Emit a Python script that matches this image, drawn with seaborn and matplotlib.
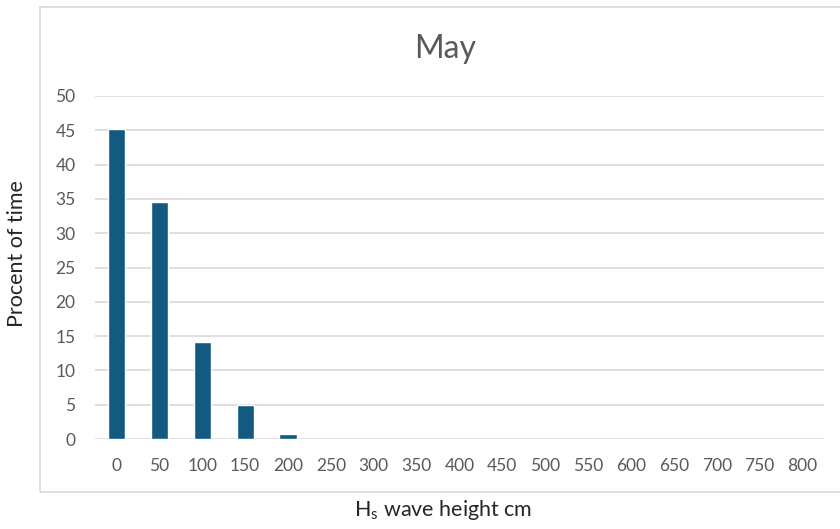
import matplotlib
matplotlib.use("Agg")
import matplotlib.pyplot as plt
import seaborn as sns
import pandas as pd
from matplotlib.patches import Rectangle

categories = ["0", "50", "100", "150", "200", "250", "300", "350", "400",
              "450", "500", "550", "600", "650", "700", "750", "800"]
percent = [45.2, 34.6, 14.2, 5.0, 0.75, 0, 0, 0, 0, 0, 0, 0, 0, 0, 0, 0, 0]
y_ticks = [0, 5, 10, 15, 20, 25, 30, 35, 40, 45, 50]

sns.set_theme(style="white")
plt.rcParams['font.family'] = ['Lato', 'DejaVu Sans']
plt.rcParams['mathtext.fontset'] = 'custom'
plt.rcParams['mathtext.rm'] = 'Lato'
plt.rcParams['mathtext.it'] = 'Lato'

df = pd.DataFrame({"cat": categories, "val": percent})

fig = plt.figure(figsize=(8.4, 5.29), dpi=100)
ax = fig.add_axes([95/840, 90/529, (824-95)/840, (439-96)/529])

sns.barplot(data=df, x="cat", y="val", order=categories, color="#125A80",
            width=0.4, ax=ax, saturation=1, zorder=3)

ax.set_ylim(0, 50)
ax.set_yticks(y_ticks)
ax.set_xlim(-0.5, len(categories) - 0.5)
ax.yaxis.grid(True, color="#d9d9d9", linewidth=1.2, zorder=0)
ax.xaxis.grid(False)
for s in ax.spines.values():
    s.set_visible(False)
ax.tick_params(axis="both", length=0, labelsize=12.5, colors="#595959")
ax.tick_params(axis="y", pad=14)
ax.tick_params(axis="x", pad=14)
ax.set_xlabel("")
ax.set_ylabel("")

fig.text(445/840, 1 - 49/529, "May", ha="center", va="center",
         fontsize=23, color="#595959")
fig.text(17/840, 1 - 254/529, "Procent of time", rotation=90, ha="center",
         va="center", fontsize=15.5, color="#262626")
fig.text(443/840, 1 - 510/529, r"H$_\mathregular{s}$ wave height cm", ha="center",
         va="center", fontsize=15.5, color="#262626")

fig.patches.append(Rectangle((40/840, 1 - 492/529), 1.0, (492-7)/529,
                             transform=fig.transFigure, fill=False,
                             edgecolor="#d9d9d9", linewidth=1.2))

fig.savefig("out.png", dpi=100)
